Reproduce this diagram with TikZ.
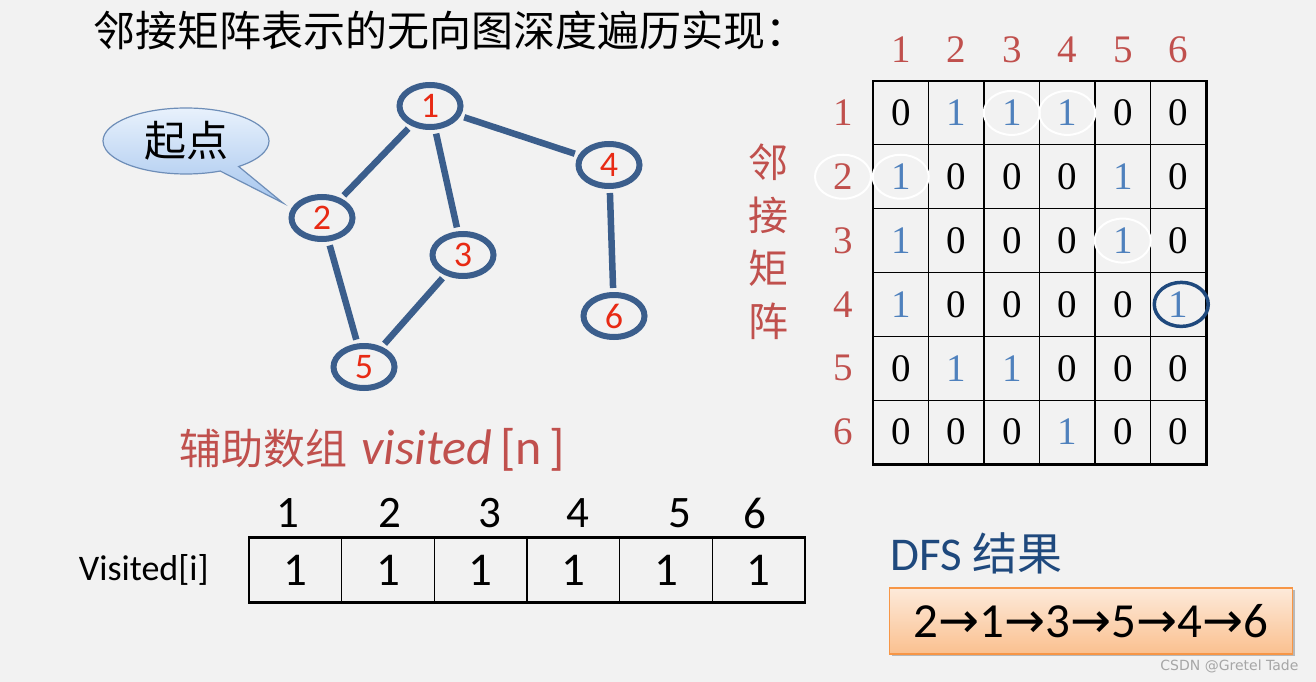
\documentclass[tikz,border=0pt]{standalone}
\usepackage{fontspec}
\setmainfont{Carlito}
\newfontfamily\cjk{Noto Sans CJK SC}
\newfontfamily\serifnum{Liberation Serif}
\newfontfamily\symb{DejaVu Sans}
\usetikzlibrary{shapes.geometric, shapes.callouts, shadows, positioning}
\definecolor{PageGray}{RGB}{242,242,242}
\definecolor{EdgeBlue}{RGB}{59,94,140}
\definecolor{NodeRed}{RGB}{232,42,20}
\definecolor{HeadRed}{RGB}{192,80,77}
\definecolor{OneBlue}{RGB}{79,129,189}
\definecolor{DarkBlue}{RGB}{31,73,125}
\definecolor{BubbleTop}{RGB}{232,241,252}
\definecolor{BubbleBot}{RGB}{166,198,238}
\definecolor{BubbleLine}{RGB}{110,142,184}
\definecolor{OrangeTop}{RGB}{253,234,218}
\definecolor{OrangeBot}{RGB}{250,192,143}
\definecolor{OrangeLine}{RGB}{247,150,70}
\newcommand{\nxt}{{\symb →}}
\tikzset{
    vertex/.style={ellipse, draw=EdgeBlue, line width=6pt, minimum width=61pt, minimum height=42pt, inner sep=0pt, text=NodeRed, font=\fontsize{36}{36}\selectfont},
    edge/.style={draw=EdgeBlue, line width=6.5pt, shorten <=4pt, shorten >=4pt},
    bubble/.style={ellipse callout, draw=BubbleLine, line width=1.2pt, top color=BubbleTop, bottom color=BubbleBot, minimum width=166pt, minimum height=66pt, font=\cjk\fontsize{42}{42}\selectfont},
    cell0/.style={rectangle, draw=black, line width=1.2pt, minimum width=55.5pt, minimum height=63.8pt, inner sep=0pt, font=\serifnum\fontsize{39}{39}\selectfont},
    cell1/.style={cell0, text=OneBlue},
    head/.style={text=HeadRed, font=\serifnum\fontsize{39}{39}\selectfont},
    ring/.style={ellipse, draw=white, line width=2pt, minimum width=56pt, minimum height=44pt},
    vcell/.style={rectangle, draw=black, line width=1.5pt, minimum width=92.67pt, minimum height=64pt, inner sep=0pt, font=\fontsize{47}{47}\selectfont},
    vhead/.style={font=\fontsize{45}{45}\selectfont},
    resbox/.style={rectangle, draw=OrangeLine, line width=1.2pt, top color=OrangeTop, bottom color=OrangeBot, drop shadow, minimum width=403pt, minimum height=66pt, font=\fontsize{49}{49}\selectfont}
}
\begin{document}
\begin{tikzpicture}[x=1pt, y=-1pt]
    \fill[PageGray] (0,0) rectangle (1316,682);
    \useasboundingbox (0,0) rectangle (1316,682);

    \node[anchor=west, font=\cjk\fontsize{42}{42}\selectfont] (title) at (90,30) {邻接矩阵表示的无向图深度遍历实现：};

    % graph
    \node[vertex] (g1) at (430,106) {1};
    \node[vertex] (g4) at (609,165) {4};
    \node[vertex] (g2) at (322,218) {2};
    \node[vertex] (g3) at (463,255) {3};
    \node[vertex] (g6) at (614,316) {6};
    \node[vertex] (g5) at (364,367) {5};
    \draw[edge] (g1) -- (g2);
    \draw[edge] (g1) -- (g3);
    \draw[edge] (g1) -- (g4);
    \draw[edge] (g4) -- (g6);
    \draw[edge] (g2) -- (g5);
    \draw[edge] (g3) -- (g5);
    \node[bubble, callout absolute pointer={(283,203)}] (start) at (186,141) {起点};

    % adjacency matrix
    \foreach \row [count=\r] in {{0,1,1,1,0,0},{1,0,0,0,1,0},{1,0,0,0,1,0},{1,0,0,0,0,1},{0,1,1,0,0,0},{0,0,0,1,0,0}} {
        \foreach \v [count=\c] in \row {
            \node[cell\v] (m-\r-\c) at ({845.25+55.5*\c}, {49.08+63.83*\r}) {\v};
        }
        \node[head] (row-\r) at (843, {49.08+63.83*\r}) {\r};
        \node[head] (col-\r) at ({845.25+55.5*\r}, 50) {\r};
    }
    \draw[line width=3pt] (m-1-6.north east) -- (m-6-6.south east) -- (m-6-1.south west);
    \node[text=HeadRed, font=\cjk\fontsize{40}{53}\selectfont, align=center] (adjlabel) at (768,242) {邻\\接\\矩\\阵};

    \node[ring] (ring-a) at (m-1-3) {};
    \node[ring] (ring-b) at (m-1-4) {};
    \node[ring] (ring-c) at (m-2-1) {};
    \node[ring] (ring-d) at (row-2) {};
    \node[ring] (ring-e) at (m-3-5) {};
    \node[ring, draw=DarkBlue, line width=3.5pt, minimum width=54pt] (ring-f) at ([xshift=3pt]m-4-6) {};

    % visited array
    \node[anchor=west, text=HeadRed, font=\fontsize{50}{50}\selectfont] (arrcap) at (176,450) {{\cjk\fontsize{42}{42}\selectfont 辅助数组}\hspace{14pt}\textit{visited}\hspace{8pt}[n\,]};
    \foreach \c in {1,...,6} {
        \node[vcell] (v-\c) at ({249+92.67*(\c-0.5)}, 570) {1};
    }
    \foreach \x [count=\c] in {288,390,490,578,680,755} {
        \node[vhead] (vh-\c) at (\x,513) {\c};
    }
    \draw[line width=3pt] (v-1.north west) -- (v-6.north east);
    \draw[line width=3pt] (v-1.south west) -- (v-6.south east);
    \node[font=\fontsize{36}{36}\selectfont, left=36pt of v-1] (vlabel) {Visited[i]};

    % result
    \node[anchor=west, text=DarkBlue, font=\fontsize{47}{47}\selectfont] (dfscap) at (887,553) {DFS {\cjk\fontsize{45}{45}\selectfont 结果}};
    \node[resbox] (result) at (1091,621) {2\nxt1\nxt3\nxt5\nxt4\nxt6};
    \node[text=gray!70, font=\symb\fontsize{14}{14}\selectfont, anchor=east] (mark-src) at (1302,666) {CSDN @Gretel Tade};
\end{tikzpicture}
\end{document}
